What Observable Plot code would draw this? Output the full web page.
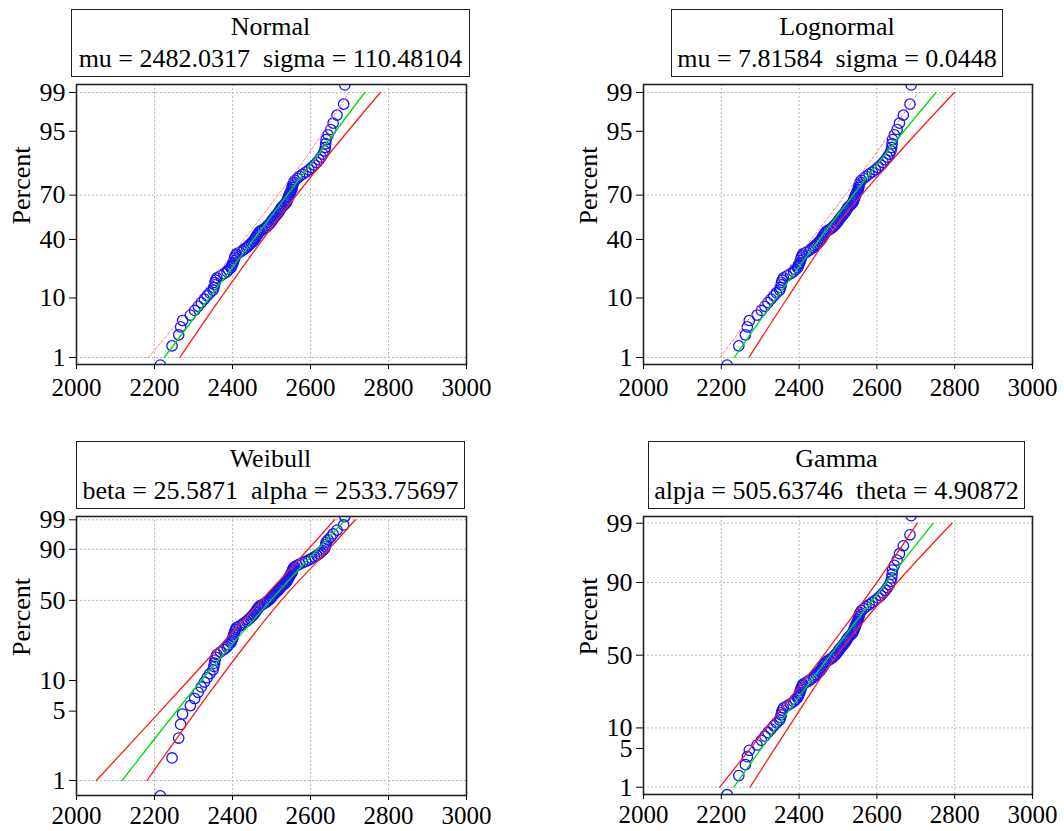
<!DOCTYPE html>
<html><head><meta charset="utf-8">
<script src="https://cdn.jsdelivr.net/npm/d3@7"></script>
<script src="https://cdn.jsdelivr.net/npm/@observablehq/plot@0.6"></script>
<style>
html,body{margin:0;padding:0;background:#fff;}
#root{position:relative;width:1064px;height:831px;overflow:hidden;font-family:"Liberation Serif","Times New Roman",serif;background:#fff;}
.box{position:absolute;box-sizing:border-box;border:1.5px solid #222;background:#fff;text-align:center;font-size:26px;line-height:32px;white-space:pre;color:#000;padding-top:1px;z-index:2;}
.pan{position:absolute;z-index:1;}
</style></head><body><div id="root"></div>
<script>
// ---- data ----
const xTicks = [2000, 2200, 2400, 2600, 2800, 3000];
const xGrid = [2200, 2400, 2600, 2800];

// 100 sorted observations (same sample in all four plots)
const strength = [
 2215,2245,2262,2267,2272,2292,2303,2312,2320,2328,
 2335,2342,2350,2352,2354,2355,2357,2360,2369,2378,
 2386,2390,2396,2398,2400,2402,2403,2405,2406,2408,
 2410,2418,2425,2430,2436,2440,2444,2448,2452,2455,
 2458,2460,2462,2465,2467,2470,2476,2482,2487,2490,
 2494,2497,2500,2502,2505,2508,2511,2514,2517,2520,
 2522,2524,2527,2531,2535,2538,2540,2541,2543,2544,
 2546,2548,2550,2552,2553,2554,2555,2557,2560,2566,
 2572,2580,2588,2596,2603,2610,2616,2622,2627,2632,
 2636,2638,2639,2640,2645,2652,2658,2668,2685,2688
];

// reference-line positions (x value at given percent)
const linePct = [1, 10, 50, 90, 99];
const normalFit    = [2225, 2340, 2482, 2624, 2739];
const normalUpper  = [2184, 2311, 2458, 2598, 2698];
const normalLower  = [2265, 2370, 2505, 2652, 2779];
const lognormFit   = [2233, 2341, 2480, 2626, 2752];
const lognormUpper = [2197, 2312, 2460, 2600, 2706];
const lognormLower = [2271, 2370, 2497, 2658, 2799];
const weibullFit   = [2117, 2320, 2498, 2618, 2690];
const weibullUpper = [2051, 2287, 2474, 2594, 2662];
const weibullLower = [2181, 2364, 2525, 2647, 2715];
const gammaFit     = [2232, 2341, 2480, 2624, 2745];
const gammaUpper   = [2196, 2316, 2463, 2600, 2704];
const gammaLower   = [2274, 2372, 2497, 2652, 2793];

const normTicks = [1, 10, 40, 70, 95, 99];
const normGrid = [1, 70, 99];
const weibTicks = [1, 5, 10, 50, 90, 99];
const weibGrid = [1, 50, 90, 99];
const gammaTicks = [1, 5, 10, 50, 90, 99];
const gammaGrid = [1, 10, 50, 90, 99];

const titles = ["Normal", "Lognormal", "Weibull", "Gamma"];
const paramText = [
 "mu = 2482.0317  sigma = 110.48104",
 "mu = 7.81584  sigma = 0.0448",
 "beta = 25.5871  alpha = 2533.75697",
 "alpja = 505.63746  theta = 4.90872"
];

// ---- probability-paper transforms ----
function probit(p){
 const a=[-3.969683028665376e+01,2.209460984245205e+02,-2.759285104469687e+02,1.383577518672690e+02,-3.066479806614716e+01,2.506628277459239e+00];
 const b=[-5.447609879822406e+01,1.615858368580409e+02,-1.556989798598866e+02,6.680131188771972e+01,-1.328068155288572e+01];
 const c=[-7.784894002430293e-03,-3.223964580411365e-01,-2.400758277161838e+00,-2.549732539343734e+00,4.374664141464968e+00,2.938163982698783e+00];
 const d=[7.784695709041462e-03,3.224671290700398e-01,2.445134137142996e+00,3.754408661907416e+00];
 const pl=0.02425, ph=1-pl; let q,r;
 if(p<pl){q=Math.sqrt(-2*Math.log(p));return (((((c[0]*q+c[1])*q+c[2])*q+c[3])*q+c[4])*q+c[5])/((((d[0]*q+d[1])*q+d[2])*q+d[3])*q+1);}
 if(p<=ph){q=p-0.5;r=q*q;return (((((a[0]*r+a[1])*r+a[2])*r+a[3])*r+a[4])*r+a[5])*q/(((((b[0]*r+b[1])*r+b[2])*r+b[3])*r+b[4])*r+1);}
 q=Math.sqrt(-2*Math.log(1-p));return -(((((c[0]*q+c[1])*q+c[2])*q+c[3])*q+c[4])*q+c[5])/((((d[0]*q+d[1])*q+d[2])*q+d[3])*q+1);
}
const weib = p => Math.log(-Math.log(1 - p));

// median-rank plotting positions
const n = strength.length;
const points = strength.map((x, i) => ({x, p: (i + 1 - 0.3) / (n + 0.4)}));

const root = document.getElementById("root");
const FONT = '"Liberation Serif","Times New Roman",serif';

function panel(cfg){
  const T = cfg.T;
  const tickVals = cfg.ticks.map(t => T(t / 100));
  const labelMap = new Map(tickVals.map((v, i) => [v, String(cfg.ticks[i])]));
  const gridVals = cfg.grid.map(t => T(t / 100));
  const mkLine = vals => linePct.map((p, i) => ({x: vals[i], y: T(p / 100)}));
  const lineMarks = cfg.lines.map(l => Plot.line(mkLine(l.vals), {
    x: "x", y: "y", curve: "catmull-rom", clip: true,
    stroke: l.color, strokeWidth: l.w, strokeDasharray: l.dash || null
  }));
  const chart = Plot.plot({
    width: 532, height: cfg.h,
    marginLeft: cfg.mL, marginRight: cfg.mR, marginTop: cfg.mT, marginBottom: cfg.mB,
    style: {fontFamily: FONT, background: "transparent", overflow: "visible", color: "#000"},
    x: {domain: [2000, 3000]},
    y: {domain: cfg.dom},
    marks: [
      Plot.gridX({ticks: xGrid, stroke: "#b8b8b8", strokeOpacity: 1, strokeDasharray: "2,2"}),
      Plot.gridY({ticks: gridVals, stroke: "#b8b8b8", strokeOpacity: 1, strokeDasharray: "2,2"}),
      Plot.dot(points, {x: "x", y: d => T(d.p), r: 5.2, stroke: "#1414ff", strokeWidth: 1.3, fill: "none", clip: true}),
      ...lineMarks,
      Plot.frame({stroke: "#222", strokeWidth: 1.6}),
      Plot.axisX({ticks: xTicks, tickSize: 5, tickPadding: cfg.xPad, fontSize: 25, label: null, tickFormat: d => String(d)}),
      Plot.axisY({ticks: tickVals, tickSize: 7, tickPadding: 4, fontSize: 26, label: null, tickFormat: d => labelMap.get(d)}),
      Plot.text(["Percent"], {text: d => d, frameAnchor: "left", rotate: -90, dx: -55, fontSize: 26})
    ]
  });
  chart.classList.add("pan");
  chart.style.left = cfg.left + "px";
  chart.style.top = cfg.top + "px";
  root.appendChild(chart);

  const box = document.createElement("div");
  box.className = "box";
  box.style.left = cfg.box[0] + "px";
  box.style.top = cfg.box[1] + "px";
  box.style.width = cfg.box[2] + "px";
  box.style.height = "68px";
  box.textContent = cfg.title + "\n" + cfg.params;
  root.appendChild(box);
}

const RED = "#ff1a1a", GREEN = "#00dd00", PINK = "#ff7070";

panel({title: titles[0], params: paramText[0], left: 0, top: 0, h: 415, mL: 76, mR: 66, mT: 84, mB: 51, xPad: 9,
  T: probit, dom: [-2.4492, 2.4668], ticks: normTicks, grid: normGrid, box: [71, 9, 399],
  lines: [{vals: normalUpper, color: PINK, w: 0.9, dash: "3,2"}, {vals: normalLower, color: RED, w: 1.3}, {vals: normalFit, color: GREEN, w: 1.3}]});
panel({title: titles[1], params: paramText[1], left: 532, top: 0, h: 415, mL: 111, mR: 32, mT: 84, mB: 51, xPad: 9,
  T: probit, dom: [-2.4492, 2.4668], ticks: normTicks, grid: normGrid, box: [671, 9, 332],
  lines: [{vals: lognormUpper, color: PINK, w: 0.9, dash: "3,2"}, {vals: lognormLower, color: RED, w: 1.3}, {vals: lognormFit, color: GREEN, w: 1.3}]});
panel({title: titles[2], params: paramText[2], left: 0, top: 415, h: 416, mL: 76, mR: 66, mT: 101, mB: 36, xPad: 6,
  T: weib, dom: [-4.9527, 1.6048], ticks: weibTicks, grid: weibGrid, box: [76, 441, 389],
  lines: [{vals: weibullUpper, color: RED, w: 1.3}, {vals: weibullLower, color: RED, w: 1.3}, {vals: weibullFit, color: GREEN, w: 1.3}]});
panel({title: titles[3], params: paramText[3], left: 532, top: 415, h: 416, mL: 111, mR: 32, mT: 101, mB: 37, xPad: 6,
  T: probit, dom: [-2.4550, 2.4444], ticks: gammaTicks, grid: gammaGrid, box: [648, 441, 377],
  lines: [{vals: gammaUpper, color: RED, w: 1.3}, {vals: gammaLower, color: RED, w: 1.3}, {vals: gammaFit, color: GREEN, w: 1.3}]});
</script></body></html>
